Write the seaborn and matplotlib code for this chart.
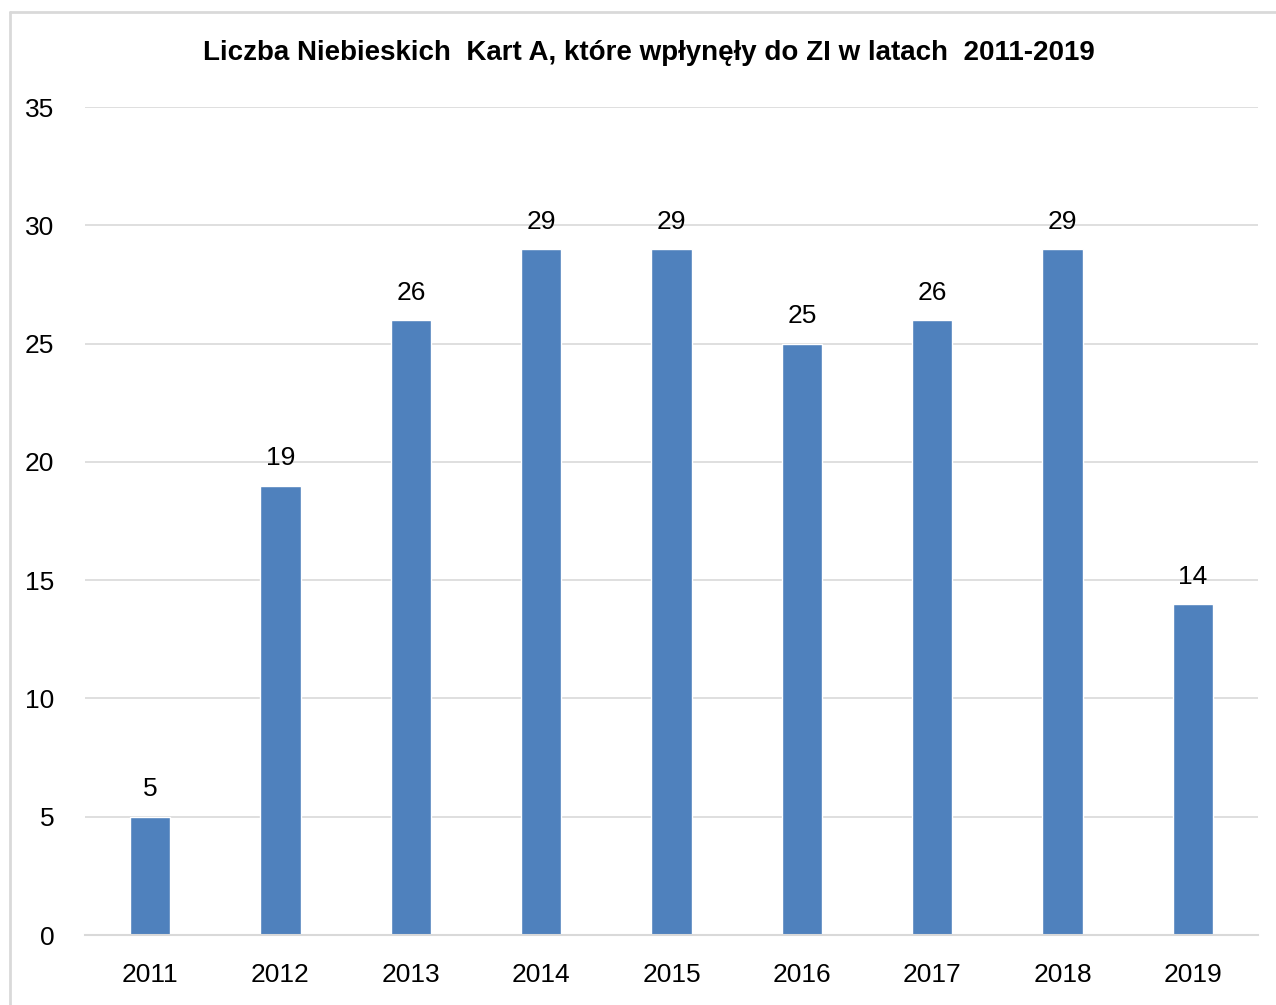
import matplotlib
matplotlib.use("Agg")
import matplotlib.pyplot as plt
import seaborn as sns
import pandas as pd
from matplotlib.lines import Line2D
from matplotlib import font_manager

years = ["2011", "2012", "2013", "2014", "2015", "2016", "2017", "2018", "2019"]
counts = [5, 19, 26, 29, 29, 25, 26, 29, 14]
yticks = [0, 5, 10, 15, 20, 25, 30, 35]
title = "Liczba Niebieskich  Kart A, które wpłynęły do ZI w latach  2011-2019"

sns.set_theme(style="white")
names = {f.name for f in font_manager.fontManager.ttflist}
fam = "Liberation Sans Narrow" if "Liberation Sans Narrow" in names else "Liberation Sans"
plt.rcParams['font.family'] = [fam, 'DejaVu Sans']
plt.rcParams['text.color'] = 'black'

df = pd.DataFrame({"year": years, "count": counts})

fig = plt.figure(figsize=(12.76, 10.05), dpi=100)
ax = fig.add_axes([85/1276, 1-935/1005, (1258-85)/1276, (935-107)/1005])
sns.barplot(data=df, x="year", y="count", color="#4F81BD", saturation=1, width=0.31, ax=ax)

ax.set_ylim(0, 35)
ax.set_yticks(yticks)
ax.yaxis.grid(True, color="#D9D9D9", linewidth=1.2)
ax.set_axisbelow(True)
for s in ["top", "right", "left"]:
    ax.spines[s].set_visible(False)
ax.spines["bottom"].set_color("#D9D9D9")
ax.spines["bottom"].set_linewidth(1.5)
ax.set_xlabel("")
ax.set_ylabel("")
ax.tick_params(axis="both", length=0, labelsize=19, colors="black")
ax.tick_params(axis="y", pad=22)
ax.tick_params(axis="x", pad=20)

for c in ax.containers:
    ax.bar_label(c, labels=[str(v) for v in counts], padding=11, fontsize=19, color="black")

fig.text(649/1276, 1-53/1005, title, ha="center", va="center", fontsize=20, fontweight="bold", color="black")

# light outer border (left & top)
fig.add_artist(Line2D([10/1276, 10/1276], [0, 1-12/1005], transform=fig.transFigure, color="#D9D9D9", linewidth=2))
fig.add_artist(Line2D([10/1276, 1], [1-12/1005, 1-12/1005], transform=fig.transFigure, color="#D9D9D9", linewidth=2))

fig.savefig("out.png", dpi=100, facecolor="white")
